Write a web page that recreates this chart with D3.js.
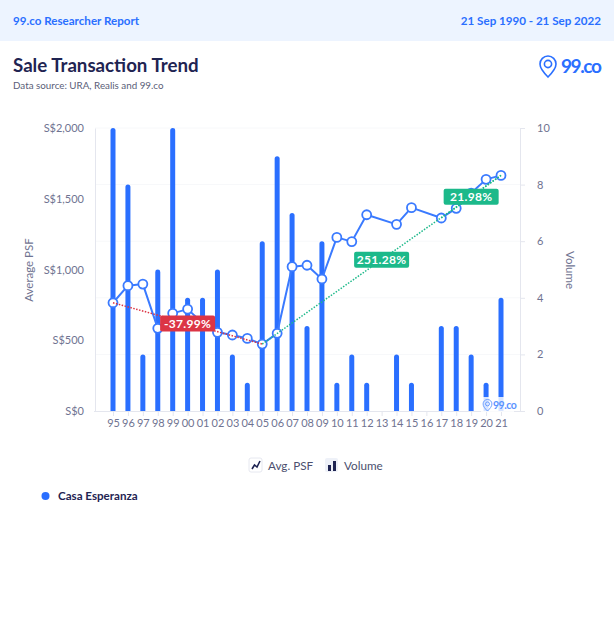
<!DOCTYPE html>
<html>
<head>
<meta charset="utf-8">
<script src="https://cdn.jsdelivr.net/npm/d3@7"></script>
<style>
  html, body { margin: 0; padding: 0; background: #fff; }
  text { font-family: Lato, "Open Sans", sans-serif; }
</style>
</head>
<body>
<div id="chart"></div>
<script>
var years = ['95','96','97','98','99','00','01','02','03','04','05','06','07','08','09','10','11','12','13','14','15','16','17','18','19','20','21'];
var volume = [10,8,2,5,10,4,4,5,2,1,6,9,7,3,6,1,2,1,0,2,1,0,3,3,2,1,4];
var avgPsf = [765,886,897,584,690,720,622,556,537,513,473,549,1020,1030,933,1227,1197,1387,null,1319,1437,null,1364,1432,1540,1637,1665];
var psfTicks = [0,500,1000,1500,2000];
var volumeTicks = [0,2,4,6,8,10];
var trendFrom = ['95','05','17'];
var trendTo = ['05','21','21'];
var trendLabels = ['-37.99%','251.28%','21.98%'];
var trendColors = ['#dc3545','#1cb98a','#1cb98a'];

var BLUE = '#2a6fff', NAVY = '#1f2452', GREY = '#6f7391', AXIS = '#e4e6ee', GRID = '#f7f8fa';
var plotTop = 128, plotBottom = 411;

var svg = d3.select('#chart').append('svg')
    .attr('width', 614).attr('height', 630)
    .style('display', 'block');

// header band
svg.append('rect').attr('width', 614).attr('height', 41).attr('fill', '#edf4ff');
svg.append('text').attr('x', 13).attr('y', 25).attr('fill', BLUE)
    .style('font-size', '11.6px').style('font-weight', 700).text('99.co Researcher Report');
svg.append('text').attr('x', 601).attr('y', 25).attr('fill', BLUE).attr('text-anchor', 'end')
    .style('font-size', '11.6px').style('font-weight', 700).text('21 Sep 1990 - 21 Sep 2022');

svg.append('text').attr('x', 13).attr('y', 72).attr('fill', NAVY)
    .style('font-size', '18.7px').style('font-weight', 700).text('Sale Transaction Trend');
svg.append('text').attr('x', 13).attr('y', 89).attr('fill', '#5a5e78')
    .style('font-size', '9.8px').text('Data source: URA, Realis and 99.co');

function drawLogo(x, y, s, color, size, textX, spacing) {
    var g = svg.append('g').attr('transform', 'translate(' + x + ',' + y + ') scale(' + s + ')');
    g.append('path')
        .attr('d', 'M0,11 C-5,6 -8,2.5 -8,-2 A8,8 0 1 1 8,-2 C8,2.5 5,6 0,11 Z')
        .attr('fill', 'none').attr('stroke', color).attr('stroke-width', 1.6);
    g.append('circle').attr('cy', -2).attr('r', 3.6)
        .attr('fill', 'none').attr('stroke', color).attr('stroke-width', 1.6);
    svg.append('text').attr('x', textX).attr('y', y + 6.5 * s).attr('fill', color)
        .style('font-size', size + 'px').style('font-weight', 700).style('letter-spacing', spacing + 'px')
        .text('99.co');
}
drawLogo(548, 66, 1, BLUE, 19, 561, -1.4);

// scales
var x = d3.scalePoint().domain(years).range([113, 501]);
var yPsf = d3.scaleLinear().domain([0, 2000]).range([plotBottom, plotTop]);
var yVol = d3.scaleLinear().domain([0, 10]).range([plotBottom, plotTop]);

// grid
svg.append('g').selectAll('line').data(volumeTicks.slice(1)).enter().append('line')
    .attr('x1', 95).attr('x2', 520)
    .attr('y1', function (d) { return yVol(d); })
    .attr('y2', function (d) { return yVol(d); })
    .attr('stroke', GRID);

// axes
function styleAxis(g) {
    g.selectAll('.domain').attr('stroke', AXIS);
    g.selectAll('.tick line').attr('stroke', AXIS);
    g.selectAll('text').attr('fill', GREY)
        .style('font-size', '11px').style('font-family', 'Lato, "Open Sans", sans-serif');
}

svg.append('g').attr('transform', 'translate(95,0)')
    .call(d3.axisLeft(yPsf).tickValues(psfTicks).tickSize(0).tickPadding(11)
        .tickFormat(function (d) { return 'S$' + d3.format(',')(d); }))
    .call(styleAxis);

svg.append('g').attr('transform', 'translate(520,0)')
    .call(d3.axisRight(yVol).tickValues(volumeTicks).tickSize(5).tickSizeOuter(0).tickPadding(12))
    .call(styleAxis);

var xAxisG = svg.append('g').attr('transform', 'translate(0,' + plotBottom + ')')
    .call(d3.axisBottom(x).tickSize(5).tickSizeOuter(0).tickPadding(3))
    .call(styleAxis);
xAxisG.select('.domain').attr('d', 'M94,0.5H525');

svg.append('text').attr('transform', 'translate(33,270) rotate(-90)').attr('text-anchor', 'middle')
    .attr('fill', GREY).style('font-size', '11.5px').text('Average PSF');
svg.append('text').attr('transform', 'translate(566,270) rotate(90)').attr('text-anchor', 'middle')
    .attr('fill', GREY).style('font-size', '11.5px').text('Volume');

// volume bars, rounded on top only
var barW = 5;
var bars = svg.append('g');
volume.forEach(function (v, i) {
    if (v === 0) return;
    var cx = x(years[i]), yTop = yVol(v);
    bars.append('path').attr('fill', BLUE)
        .attr('d', 'M' + (cx - barW / 2) + ',' + plotBottom +
            'V' + (yTop + barW / 2) +
            'A' + (barW / 2) + ',' + (barW / 2) + ' 0 0 1 ' + (cx + barW / 2) + ',' + (yTop + barW / 2) +
            'V' + plotBottom + 'Z');
});

// watermark
svg.append('rect').attr('x', 481).attr('y', 397).attr('width', 33).attr('height', 15)
    .attr('fill', '#fff').attr('fill-opacity', 0.82);
drawLogo(487.5, 405, 0.55, '#5b93ff', 10.5, 493, -0.5);

// avg psf line, gaps are skipped and joined
var points = avgPsf.map(function (v, i) { return { year: years[i], value: v }; })
    .filter(function (d) { return d.value !== null; });

var line = d3.line()
    .x(function (d) { return x(d.year); })
    .y(function (d) { return yPsf(d.value); });

svg.append('path').datum(points)
    .attr('d', line).attr('fill', 'none')
    .attr('stroke', '#3a7aff').attr('stroke-width', 2).attr('stroke-linejoin', 'round');

svg.append('g').selectAll('circle').data(points).enter().append('circle')
    .attr('cx', function (d) { return x(d.year); })
    .attr('cy', function (d) { return yPsf(d.value); })
    .attr('r', 4.5)
    .attr('fill', '#fff').attr('stroke', '#3a7aff').attr('stroke-width', 1.8);

// trend lines and their labels
function psfAt(year) { return avgPsf[years.indexOf(year)]; }

trendLabels.forEach(function (label, i) {
    var x1 = x(trendFrom[i]), y1 = yPsf(psfAt(trendFrom[i]));
    var x2 = x(trendTo[i]), y2 = yPsf(psfAt(trendTo[i]));
    svg.append('line').attr('x1', x1).attr('y1', y1).attr('x2', x2).attr('y2', y2)
        .attr('stroke', trendColors[i]).attr('stroke-width', 1.5)
        .attr('stroke-dasharray', '1.5 1.5');
});

trendLabels.forEach(function (label, i) {
    var x1 = x(trendFrom[i]), y1 = yPsf(psfAt(trendFrom[i]));
    var x2 = x(trendTo[i]), y2 = yPsf(psfAt(trendTo[i]));
    var mx = (x1 + x2) / 2, my = (y1 + y2) / 2;
    svg.append('rect').attr('x', mx - 27.5).attr('y', my - 8).attr('width', 55).attr('height', 16)
        .attr('rx', 2).attr('fill', trendColors[i]);
    svg.append('text').attr('x', mx).attr('y', my + 4.5).attr('text-anchor', 'middle')
        .attr('fill', '#fff').style('font-size', '12px').style('font-weight', 700)
        .style('letter-spacing', '0.3px').text(label);
});

// legend
var lg = svg.append('g');
lg.append('rect').attr('x', 249).attr('y', 458).attr('width', 13).attr('height', 14).attr('rx', 2)
    .attr('fill', '#fff').attr('stroke', '#e6e8f0');
lg.append('path').attr('d', 'M252,469 L254.5,465 L257,467 L260,461').attr('fill', 'none')
    .attr('stroke', NAVY).attr('stroke-width', 1.6);
lg.append('text').attr('x', 268).attr('y', 470).attr('fill', '#4b4f6e')
    .style('font-size', '11.7px').text('Avg. PSF');
lg.append('rect').attr('x', 325).attr('y', 458).attr('width', 13).attr('height', 14).attr('rx', 2)
    .attr('fill', '#eef1f8');
lg.append('rect').attr('x', 328).attr('y', 465).attr('width', 3).attr('height', 6).attr('fill', NAVY);
lg.append('rect').attr('x', 333).attr('y', 461).attr('width', 3).attr('height', 10).attr('fill', NAVY);
lg.append('text').attr('x', 344).attr('y', 470).attr('fill', '#4b4f6e')
    .style('font-size', '11.7px').text('Volume');

svg.append('circle').attr('cx', 45.5).attr('cy', 496).attr('r', 4).attr('fill', BLUE);
svg.append('text').attr('x', 58).attr('y', 500).attr('fill', NAVY)
    .style('font-size', '11.6px').style('font-weight', 700).text('Casa Esperanza');
</script>
</body>
</html>
